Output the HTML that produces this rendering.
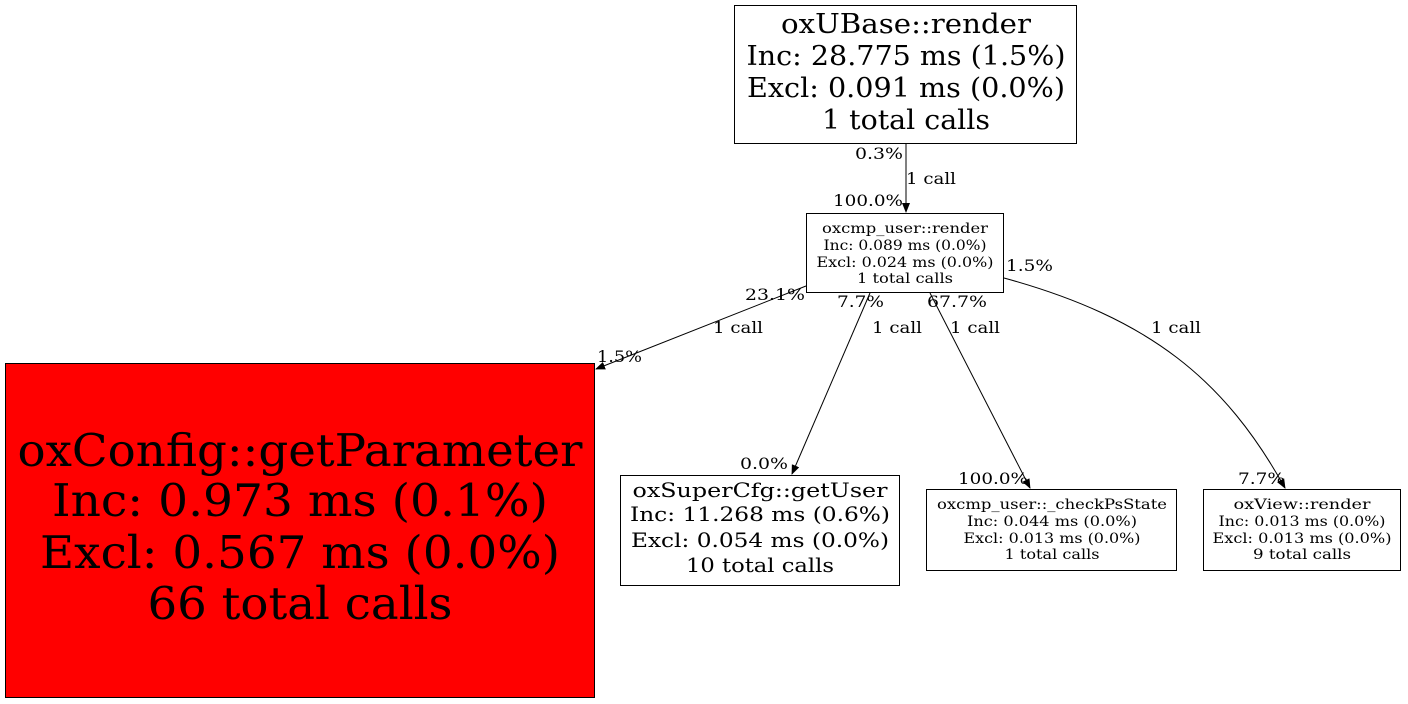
<!DOCTYPE html>
<html><head><meta charset="utf-8"><style>html,body{margin:0;padding:0;background:#fff}svg{display:block}text{font-family:"DejaVu Serif",serif;fill:#000}</style></head>
<body>
<svg width="1408" height="704" viewBox="0 0 1408 704" xmlns="http://www.w3.org/2000/svg">
<defs><marker id="a" markerWidth="10" markerHeight="8" refX="9" refY="4" orient="auto" markerUnits="userSpaceOnUse"><path d="M0,0 L10,4 L0,8 z" fill="#000"/></marker></defs>
<rect x="734.5" y="5.5" width="342" height="138" fill="#fff" stroke="#000"/>
<g font-size="27" text-anchor="middle" lengthAdjust="spacingAndGlyphs">
<text x="906" y="33" textLength="250" lengthAdjust="spacingAndGlyphs">oxUBase::render</text>
<text x="906" y="65" textLength="319" lengthAdjust="spacingAndGlyphs">Inc: 28.775 ms (1.5%)</text>
<text x="906" y="97" textLength="318" lengthAdjust="spacingAndGlyphs">Excl: 0.091 ms (0.0%)</text>
<text x="906" y="129" textLength="168" lengthAdjust="spacingAndGlyphs">1 total calls</text></g>
<rect x="806.5" y="213.5" width="197" height="79" fill="#fff" stroke="#000"/>
<g font-size="14" text-anchor="middle">
<text x="905" y="233" textLength="166" lengthAdjust="spacingAndGlyphs">oxcmp_user::render</text>
<text x="905" y="250" textLength="163" lengthAdjust="spacingAndGlyphs">Inc: 0.089 ms (0.0%)</text>
<text x="905" y="267" textLength="177" lengthAdjust="spacingAndGlyphs">Excl: 0.024 ms (0.0%)</text>
<text x="905" y="283" textLength="96" lengthAdjust="spacingAndGlyphs">1 total calls</text></g>
<rect x="5.5" y="363.5" width="589" height="334" fill="#f00" stroke="#000"/>
<g font-size="45" text-anchor="middle">
<text x="300" y="466" textLength="565" lengthAdjust="spacingAndGlyphs">oxConfig::getParameter</text>
<text x="300" y="516" textLength="496" lengthAdjust="spacingAndGlyphs">Inc: 0.973 ms (0.1%)</text>
<text x="300" y="568" textLength="520" lengthAdjust="spacingAndGlyphs">Excl: 0.567 ms (0.0%)</text>
<text x="300" y="619" textLength="305" lengthAdjust="spacingAndGlyphs">66 total calls</text></g>
<rect x="620.5" y="475.5" width="279" height="110" fill="#fff" stroke="#000"/>
<g font-size="20" text-anchor="middle">
<text x="760" y="497" textLength="255" lengthAdjust="spacingAndGlyphs">oxSuperCfg::getUser</text>
<text x="760" y="521" textLength="260" lengthAdjust="spacingAndGlyphs">Inc: 11.268 ms (0.6%)</text>
<text x="760" y="547" textLength="258" lengthAdjust="spacingAndGlyphs">Excl: 0.054 ms (0.0%)</text>
<text x="760" y="572" textLength="148" lengthAdjust="spacingAndGlyphs">10 total calls</text></g>
<rect x="926.5" y="489.5" width="250" height="81" fill="#fff" stroke="#000"/>
<g font-size="14" text-anchor="middle">
<text x="1052" y="509" textLength="230" lengthAdjust="spacingAndGlyphs">oxcmp_user::_checkPsState</text>
<text x="1052" y="526" textLength="170" lengthAdjust="spacingAndGlyphs">Inc: 0.044 ms (0.0%)</text>
<text x="1052" y="543" textLength="177" lengthAdjust="spacingAndGlyphs">Excl: 0.013 ms (0.0%)</text>
<text x="1052" y="559" textLength="95" lengthAdjust="spacingAndGlyphs">1 total calls</text></g>
<rect x="1203.5" y="489.5" width="197" height="81" fill="#fff" stroke="#000"/>
<g font-size="14" text-anchor="middle">
<text x="1302" y="509" textLength="137" lengthAdjust="spacingAndGlyphs">oxView::render</text>
<text x="1302" y="526" textLength="167" lengthAdjust="spacingAndGlyphs">Inc: 0.013 ms (0.0%)</text>
<text x="1302" y="543" textLength="179" lengthAdjust="spacingAndGlyphs">Excl: 0.013 ms (0.0%)</text>
<text x="1302" y="559" textLength="98" lengthAdjust="spacingAndGlyphs">9 total calls</text></g>
<g stroke="#000" fill="none" marker-end="url(#a)">
<path d="M906,144 L906,212"/>
<path d="M806,286 L596,369"/>
<path d="M870,293 L792,474"/>
<path d="M930,293 L1030,488"/>
<path d="M1004,278 C1150,318 1225,380 1285,488"/>
</g>
<g font-size="16">
<text x="855" y="159" textLength="48" lengthAdjust="spacingAndGlyphs">0.3%</text>
<text x="906" y="184" textLength="50" lengthAdjust="spacingAndGlyphs">1 call</text>
<text x="833" y="206" textLength="70" lengthAdjust="spacingAndGlyphs">100.0%</text>
<text x="745" y="300" textLength="60" lengthAdjust="spacingAndGlyphs">23.1%</text>
<text x="713" y="333" textLength="50" lengthAdjust="spacingAndGlyphs">1 call</text>
<text x="597" y="362" textLength="45" lengthAdjust="spacingAndGlyphs">1.5%</text>
<text x="837" y="307" textLength="47" lengthAdjust="spacingAndGlyphs">7.7%</text>
<text x="872" y="333" textLength="50" lengthAdjust="spacingAndGlyphs">1 call</text>
<text x="740" y="469" textLength="48" lengthAdjust="spacingAndGlyphs">0.0%</text>
<text x="927" y="307" textLength="60" lengthAdjust="spacingAndGlyphs">67.7%</text>
<text x="950" y="333" textLength="50" lengthAdjust="spacingAndGlyphs">1 call</text>
<text x="958" y="484" textLength="70" lengthAdjust="spacingAndGlyphs">100.0%</text>
<text x="1006" y="271" textLength="47" lengthAdjust="spacingAndGlyphs">1.5%</text>
<text x="1151" y="333" textLength="50" lengthAdjust="spacingAndGlyphs">1 call</text>
<text x="1238" y="484" textLength="47" lengthAdjust="spacingAndGlyphs">7.7%</text>
</g>
</svg>
</body></html>
